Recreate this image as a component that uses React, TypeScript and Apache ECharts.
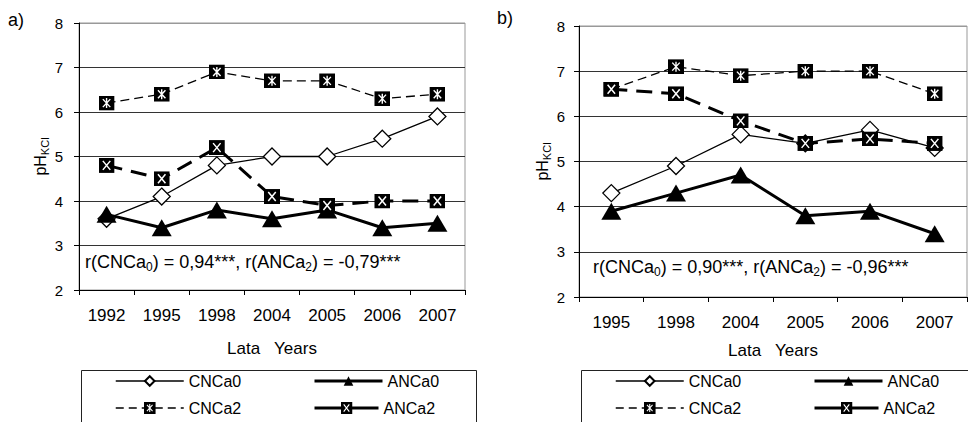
import React, { useEffect, useRef } from "react";
import * as echarts from "echarts";

// ---------- data ----------
const yearsA = ["1992", "1995", "1998", "2004", "2005", "2006", "2007"];
const cnca0A = [3.6, 4.1, 4.8, 5.0, 5.0, 5.4, 5.9];
const anca0A = [3.7, 3.4, 3.8, 3.6, 3.8, 3.4, 3.5];
const cnca2A = [6.2, 6.4, 6.9, 6.7, 6.7, 6.3, 6.4];
const anca2A = [4.8, 4.5, 5.2, 4.1, 3.9, 4.0, 4.0];

const yearsB = ["1995", "1998", "2004", "2005", "2006", "2007"];
const cnca0B = [4.3, 4.9, 5.6, 5.4, 5.7, 5.3];
const anca0B = [3.9, 4.3, 4.7, 3.8, 3.9, 3.4];
const cnca2B = [6.6, 7.1, 6.9, 7.0, 7.0, 6.5];
const anca2B = [6.6, 6.5, 5.9, 5.4, 5.5, 5.4];

const yMin = 2;
const yMax = 8;
const yInterval = 1;

const seriesNames = ["CNCa0", "ANCa0", "CNCa2", "ANCa2"];
const panelLabels = ["a)", "b)"];
const xAxisTitle = "Lata   Years";
const yAxisTitle = "{a|pH}{b|KCl}";
const corrA = "r(CNCa{s|0}) = 0,94***, r(ANCa{s|2}) = -0,79***";
const corrB = "r(CNCa{s|0}) = 0,90***, r(ANCa{s|2}) = -0,96***";

// ---------- styles ----------
const FONT = "'Liberation Sans', Arial, sans-serif";

const svgUri = (s: string) =>
  "image://data:image/svg+xml;charset=utf-8," + encodeURIComponent(s);

const starBox = svgUri(
  '<svg xmlns="http://www.w3.org/2000/svg" width="30" height="30" viewBox="0 0 30 30"><rect width="30" height="30" fill="#000"/><path d="M8 7L22 23M22 7L8 23M15 5V25" stroke="#fff" stroke-width="2.6" fill="none"/></svg>'
);
const xBox = svgUri(
  '<svg xmlns="http://www.w3.org/2000/svg" width="30" height="30" viewBox="0 0 30 30"><rect width="30" height="30" fill="#000"/><path d="M8 6L22 24M22 6L8 24" stroke="#fff" stroke-width="2.8" fill="none"/></svg>'
);

const seriesStyle: Record<string, any> = {
  CNCa0: {
    symbol: "diamond",
    symbolSize: [17, 17],
    itemStyle: { color: "#fff", borderColor: "#000", borderWidth: 1.3 },
    lineStyle: { color: "#000", width: 1.3, type: "solid" },
  },
  ANCa0: {
    symbol: "triangle",
    symbolSize: [20, 17],
    itemStyle: { color: "#000", borderColor: "#000", borderWidth: 0 },
    lineStyle: { color: "#000", width: 3, type: "solid" },
  },
  CNCa2: {
    symbol: starBox,
    symbolSize: [16, 15],
    itemStyle: { color: "#000" },
    lineStyle: { color: "#000", width: 1.3, type: [9, 5] },
  },
  ANCa2: {
    symbol: xBox,
    symbolSize: [16, 15],
    itemStyle: { color: "#000" },
    lineStyle: { color: "#000", width: 3, type: [16, 9] },
  },
};

const legendLine: Record<string, any> = {
  CNCa0: { color: "#000", width: 1.5, type: "solid" },
  ANCa0: { color: "#000", width: 3, type: "solid" },
  CNCa2: { color: "#000", width: 1.5, type: [8, 5] },
  ANCa2: { color: "#000", width: 3, type: "solid" },
};
const legendIconHeight: Record<string, number> = { CNCa0: 12, ANCa0: 12, CNCa2: 15, ANCa2: 15 };

function buildOption() {
  const dataA = [cnca0A, anca0A, cnca2A, anca2A];
  const dataB = [cnca0B, anca0B, cnca2B, anca2B];

  const series: any[] = [];
  [dataA, dataB].forEach((set, gi) => {
    set.forEach((vals, i) => {
      const name = seriesNames[i];
      series.push({
        type: "line",
        name,
        xAxisIndex: gi,
        yAxisIndex: gi,
        data: vals,
        showSymbol: true,
        ...seriesStyle[name],
      });
    });
  });

  const splitColors = ["#333", "#333", "#333", "#333", "#333", "#333", "#999"];

  const yAxis = (gi: number, margin: number, nameGap: number) => ({
    gridIndex: gi,
    type: "value",
    min: yMin,
    max: yMax,
    interval: yInterval,
    axisLine: { show: true, lineStyle: { color: "#000", width: 1 } },
    axisTick: { show: true, length: 5, lineStyle: { color: "#000" } },
    axisLabel: { fontSize: 15, color: "#000", margin, fontFamily: FONT },
    splitLine: { show: true, lineStyle: { color: splitColors, width: 1 } },
    name: yAxisTitle,
    nameLocation: "middle",
    nameGap,
    nameRotate: 90,
    nameTextStyle: {
      color: "#000",
      fontFamily: FONT,
      rich: {
        a: { fontSize: 16, color: "#000", fontFamily: FONT },
        b: { fontSize: 11, color: "#000", fontFamily: FONT, padding: [9, 0, 0, 0] },
      },
    },
  });

  const xAxis = (gi: number, data: string[], margin: number, nameGap: number) => ({
    gridIndex: gi,
    type: "category",
    data,
    axisLine: { show: true, lineStyle: { color: "#000", width: 1 } },
    axisTick: { show: true, length: 5, lineStyle: { color: "#000" } },
    axisLabel: { fontSize: 17, color: "#000", margin, interval: 0, fontFamily: FONT },
    splitLine: { show: false },
    name: xAxisTitle,
    nameLocation: "middle",
    nameGap,
    nameTextStyle: { fontSize: 17, color: "#000", fontFamily: FONT },
  });

  const legendItem = (name: string, left: number, centerY: number, itemWidth: number) => {
    const h = legendIconHeight[name];
    return {
      data: [name],
      left,
      top: centerY - 9,
      itemWidth,
      itemHeight: h,
      padding: 0,
      selectedMode: false,
      lineStyle: legendLine[name],
      textStyle: { fontSize: 16, color: "#000", fontFamily: FONT, lineHeight: 18 },
    };
  };

  return {
    animation: false,
    backgroundColor: "#fff",
    grid: [
      { left: 79, top: 23, width: 386, height: 267, show: true, borderColor: "#999", borderWidth: 1, backgroundColor: "transparent" },
      { left: 579, top: 26, width: 388, height: 271, show: true, borderColor: "#999", borderWidth: 1, backgroundColor: "transparent" },
    ],
    xAxis: [xAxis(0, yearsA, 17, 50), xAxis(1, yearsB, 17, 45)],
    yAxis: [yAxis(0, 16, 23), yAxis(1, 14, 26)],
    legend: [
      legendItem(seriesNames[0], 115, 381, 68),
      legendItem(seriesNames[1], 313, 381, 68),
      legendItem(seriesNames[2], 115, 408, 68),
      legendItem(seriesNames[3], 313, 408, 64),
      legendItem(seriesNames[0], 615, 381, 68),
      legendItem(seriesNames[1], 813, 381, 68),
      legendItem(seriesNames[2], 615, 408, 68),
      legendItem(seriesNames[3], 813, 408, 64),
    ],
    graphic: [
      { type: "rect", left: 79, top: 368, shape: { width: 395, height: 70 }, style: { fill: "none", stroke: "#222", lineWidth: 1 }, z: 0 },
      { type: "rect", left: 579, top: 368, shape: { width: 400, height: 70 }, style: { fill: "none", stroke: "#222", lineWidth: 1 }, z: 0 },
      { type: "text", x: 8, y: 11, style: { text: panelLabels[0], fontSize: 18, fontFamily: FONT, fill: "#000" } },
      { type: "text", x: 497, y: 9, style: { text: panelLabels[1], fontSize: 18, fontFamily: FONT, fill: "#000" } },
      {
        type: "text",
        x: 85,
        y: 262,
        z: 10,
        style: {
          text: corrA,
          fontSize: 18,
          fontFamily: FONT,
          fill: "#000",
          verticalAlign: "middle",
          rich: { s: { fontSize: 12, fontFamily: FONT, fill: "#000", padding: [9, 0, 0, 0] } },
        },
      },
      {
        type: "text",
        x: 593,
        y: 267,
        z: 10,
        style: {
          text: corrB,
          fontSize: 18,
          fontFamily: FONT,
          fill: "#000",
          verticalAlign: "middle",
          rich: { s: { fontSize: 12, fontFamily: FONT, fill: "#000", padding: [9, 0, 0, 0] } },
        },
      },
    ],
    series,
  };
}

export default function App() {
  const ref = useRef<HTMLDivElement>(null);
  useEffect(() => {
    document.body.style.margin = "0";
    if (!ref.current) return;
    const chart = echarts.init(ref.current, undefined, { renderer: "svg" });
    chart.setOption(buildOption() as any);
    return () => chart.dispose();
  }, []);
  return <div ref={ref} style={{ width: 968, height: 422 }} />;
}
